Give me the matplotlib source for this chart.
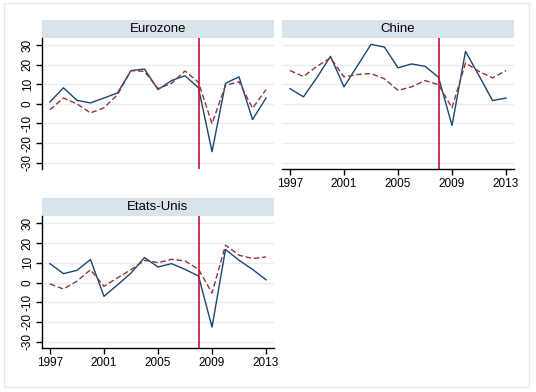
"""Croissance par pays : trois panneaux (Eurozone, Chine, Etats-Unis), style Stata."""
import matplotlib

matplotlib.use("Agg")
import matplotlib.pyplot as plt
from matplotlib.patches import Rectangle

years = list(range(1997, 2014))
crisis_year = 2008
xticks = [1997, 2001, 2005, 2009, 2013]
yticks = [-30, -20, -10, 0, 10, 20, 30]

euro_obs = [1, 8.2, 1.8, 0.5, 3, 5.6, 17, 17.8, 7.3, 11.9, 14.4, 8.2, -24.4, 10.5, 13.8, -8, 3]
euro_fit = [-3, 3, 0, -4.6, -2, 4.7, 17, 16.6, 7.8, 10.5, 16.8, 11, -10.1, 9.5, 11.3, -2.2, 7.3]

china_obs = [7.8, 3.6, 13.5, 24.3, 8.7, 19.5, 30.4, 29, 18.4, 20.4, 19.2, 13.6, -11, 26.8, 14.4, 1.7, 3]
china_fit = [17, 14, 19.2, 23.5, 13.8, 15, 15.5, 12.8, 6.9, 8.7, 11.9, 9.8, -2, 20.9, 16.6, 13.3, 17]

us_obs = [9.6, 4.5, 6.2, 11.7, -7, -1.2, 4.8, 12.7, 7.9, 9.6, 6.7, 3.3, -22.6, 16.8, 11.3, 6.7, 1.4]
us_fit = [-0.7, -3.3, 0.7, 6.5, -1.9, 2.4, 6.5, 11.3, 10.1, 11.8, 11, 6.7, -5.3, 19, 13.9, 12.2, 13]

W, H = 536, 392
NAVY = "#1a476f"
MAROON = "#90353b"
STRIP = "#d8e4ea"
GRID = "#e6eef1"
VLINE = "#c8103a"

plt.rcParams["font.family"] = ["Liberation Sans", "DejaVu Sans"]


def _px_axes(fig, x0, y0, x1, y1):
    """Tạo axes theo toạ độ pixel (gốc trên-trái)."""
    return fig.add_axes([x0 / W, 1 - y1 / H, (x1 - x0) / W, (y1 - y0) / H])


def _panel(fig, box, title, obs, fit, show_y, show_x):
    x0, y0, x1, y1 = box
    strip = _px_axes(fig, x0, y0 - 17.5, x1, y0)
    strip.set_facecolor(STRIP)
    strip.set_xticks([])
    strip.set_yticks([])
    for s in strip.spines.values():
        s.set_visible(False)
    strip.text(0.5, 0.5, title, ha="center", va="center", fontsize=9.5,
               transform=strip.transAxes)

    ax = _px_axes(fig, x0, y0, x1, y1)
    ax.set_xlim(1996.41, 2013.59)
    ax.set_ylim(-33.4, 33.8)
    ax.set_yticks(yticks)
    ax.grid(axis="y", color=GRID, linewidth=1.0)
    ax.set_axisbelow(True)
    for s in ("top", "right"):
        ax.spines[s].set_visible(False)

    ax.plot(years, obs, color=NAVY, linewidth=1.0)
    ax.plot(years, fit, color=MAROON, linewidth=1.0, dashes=(4, 2))
    ax.axvline(crisis_year, color=VLINE, linewidth=1.2)

    if show_y:
        ax.spines["left"].set_linewidth(1.0)
        ax.tick_params(axis="y", length=4, width=1.0, labelsize=8.5, pad=2)
        ax.set_yticklabels([str(t) for t in yticks], rotation=90, va="center")
    else:
        ax.spines["left"].set_visible(False)
        ax.tick_params(axis="y", length=0, labelleft=False)

    if show_x:
        ax.set_xticks(xticks)
        ax.spines["bottom"].set_linewidth(1.0)
        ax.tick_params(axis="x", length=4, width=1.0, labelsize=8.5, pad=2)
    else:
        ax.spines["bottom"].set_visible(False)
        ax.set_xticks([])
    return ax


fig = plt.figure(figsize=(W / 100, H / 100), dpi=100)
fig.patch.set_facecolor("white")
fig.patches.append(Rectangle((4 / W, 1 - 387 / H), 525 / W, 384 / H,
                             transform=fig.transFigure, fill=False,
                             edgecolor="#e3ebef", linewidth=1.0))

_panel(fig, (42, 37.7, 274, 169.3), "Eurozone", euro_obs, euro_fit, True, False)
_panel(fig, (282, 37.7, 514, 169.3), "Chine", china_obs, china_fit, False, True)
_panel(fig, (42, 216, 274, 348.3), "Etats-Unis", us_obs, us_fit, True, True)

fig.savefig("out.png", dpi=100)
